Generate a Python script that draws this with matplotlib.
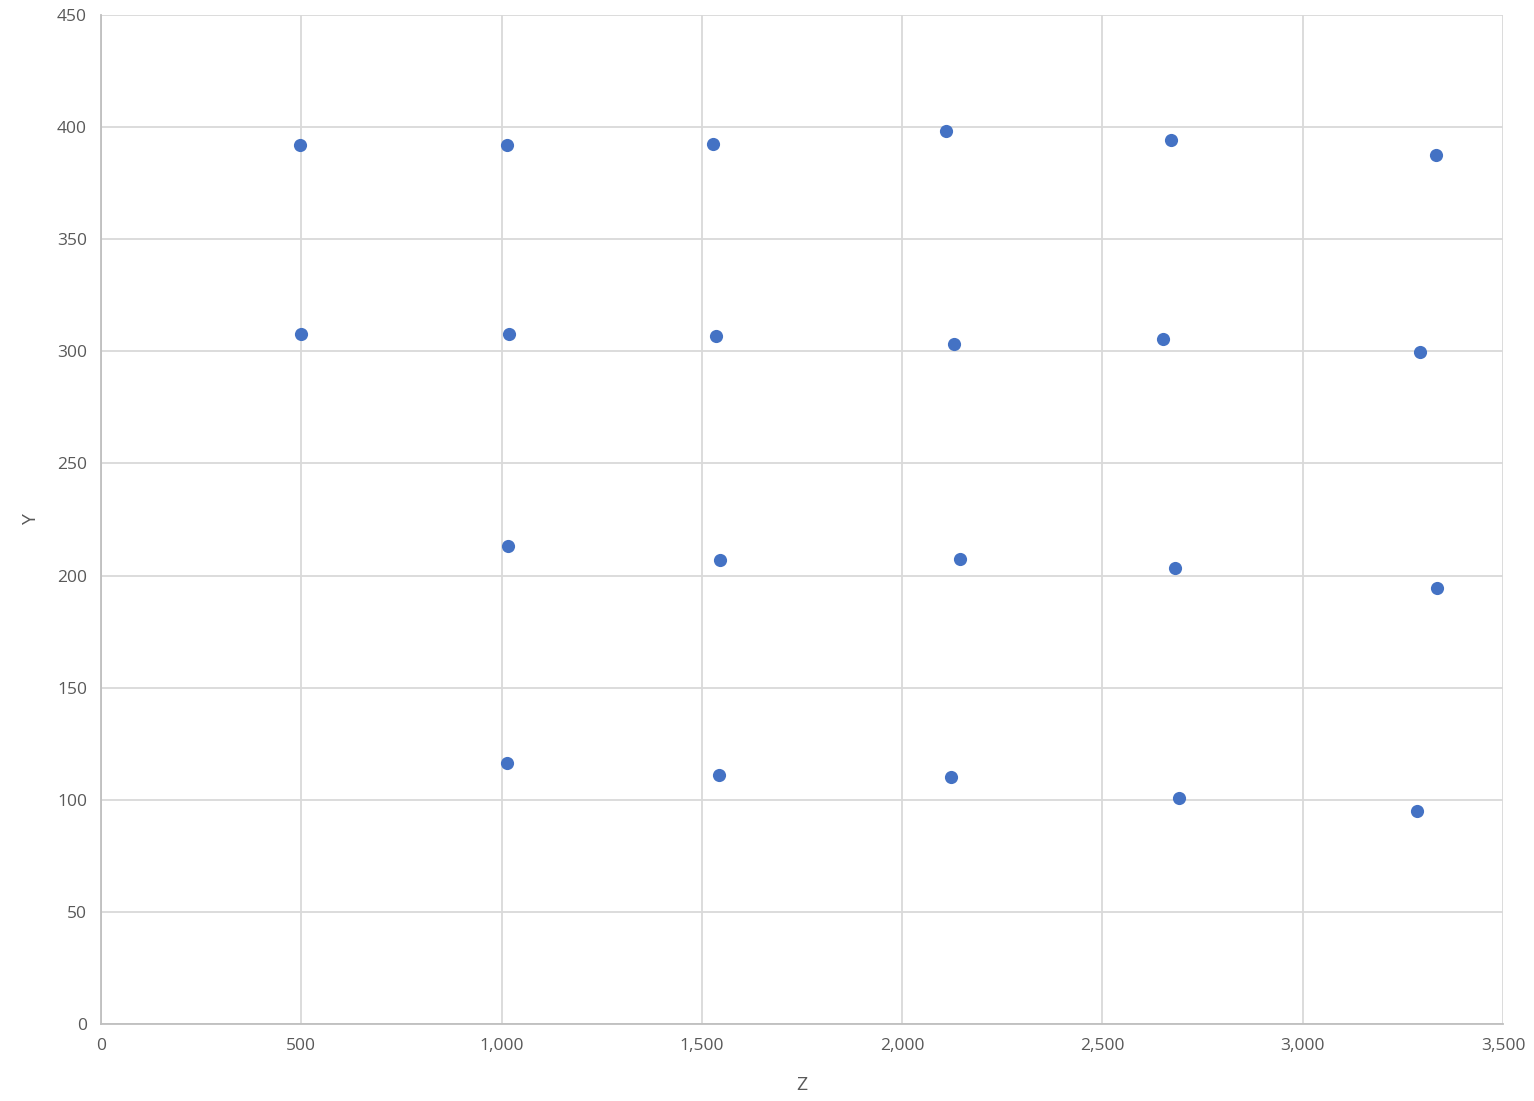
import matplotlib
matplotlib.use("Agg")
import matplotlib.pyplot as plt
from matplotlib.ticker import FuncFormatter

# data
z_values = [497, 1013, 1528, 2109, 2671, 3333,
            499, 1018, 1535, 2129, 2651, 3293,
            1016, 1545, 2144, 2681, 3335,
            1013, 1543, 2122, 2691, 3285]
y_values = [392.1, 392.0, 392.5, 398.3, 394.3, 387.6,
            307.8, 307.8, 306.9, 303.3, 305.5, 299.7,
            213.2, 207.0, 207.4, 203.4, 194.5,
            116.4, 111.1, 110.2, 100.8, 95.0]

plt.rcParams["font.family"] = ["Open Sans", "DejaVu Sans"]

fig = plt.figure(figsize=(15.34, 11.01), dpi=100)
ax = fig.add_axes([101 / 1534, 1 - 1024 / 1101, 1402 / 1534, 1009 / 1101])

ax.scatter(z_values, y_values, s=90, color="#4472C4", zorder=3, linewidths=0)

ax.set_xlim(0, 3500)
ax.set_ylim(0, 450)
ax.set_xticks(range(0, 3501, 500))
ax.set_yticks(range(0, 451, 50))
ax.xaxis.set_major_formatter(FuncFormatter(lambda v, p: f"{int(v):,}"))

ax.grid(True, color="#d9d9d9", linewidth=1.3)
ax.set_axisbelow(True)
for side in ["top", "right"]:
    ax.spines[side].set_visible(False)
for side in ["left", "bottom"]:
    ax.spines[side].set_color("#bfbfbf")
    ax.spines[side].set_linewidth(1.3)

ax.tick_params(length=0, labelsize=12.5, labelcolor="#595959", pad=10)
ax.set_xlabel("Z", fontsize=14, color="#595959", labelpad=16)
ax.set_ylabel("Y", fontsize=14, color="#595959", labelpad=12)

fig.savefig("out.png", dpi=100)
